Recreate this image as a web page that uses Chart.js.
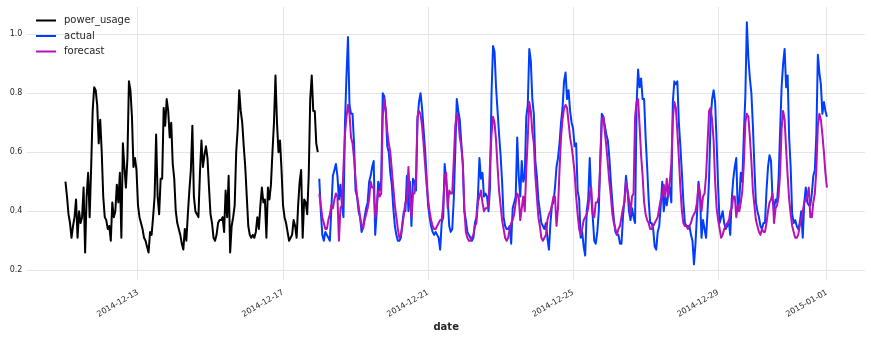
<!DOCTYPE html>
<html>
<head>
<meta charset="utf-8">
<title>power usage forecast</title>
<script src="https://cdn.jsdelivr.net/npm/chart.js@4.4.0/dist/chart.umd.min.js"></script>
<style>
  html, body { margin: 0; padding: 0; background: #fff; }
  #wrap { width: 871px; height: 339px; }
</style>
</head>
<body>
<div id="wrap"><canvas id="powerChart" width="871" height="339"></canvas></div>
<script>
// hourly series, hour 0 = 2014-12-11 00:00
const seriesStart = Date.UTC(2014, 11, 11, 0, 0, 0);
const powerUsageStartHour = 0;
const actualStartHour = 168;
const forecastStartHour = 168;

const xTickLabels = ['2014-12-13', '2014-12-17', '2014-12-21', '2014-12-25', '2014-12-29', '2015-01-01'];
const yTicks = [0.2, 0.4, 0.6, 0.8, 1.0];

const powerUsage = [
  0.50,0.45,0.39,0.36,0.31,0.35,0.38,0.44,0.31,0.40,
  0.36,0.38,0.48,0.26,0.45,0.53,0.38,0.55,0.74,0.82,
  0.81,0.76,0.63,0.71,0.60,0.45,0.38,0.37,0.34,0.35,
  0.30,0.43,0.38,0.40,0.49,0.43,0.53,0.31,0.63,0.55,
  0.48,0.58,0.84,0.81,0.72,0.55,0.58,0.54,0.42,0.38,
  0.36,0.34,0.31,0.30,0.28,0.26,0.33,0.32,0.38,0.45,
  0.66,0.45,0.39,0.51,0.51,0.75,0.69,0.78,0.74,0.65,
  0.70,0.56,0.51,0.40,0.36,0.34,0.32,0.29,0.27,0.34,
  0.30,0.39,0.47,0.54,0.69,0.45,0.40,0.39,0.38,0.53,
  0.64,0.55,0.59,0.62,0.58,0.48,0.39,0.36,0.31,0.30,
  0.32,0.36,0.37,0.37,0.38,0.33,0.47,0.38,0.52,0.26,
  0.35,0.38,0.42,0.60,0.68,0.81,0.74,0.70,0.62,0.55,
  0.45,0.35,0.32,0.31,0.32,0.31,0.33,0.38,0.34,0.42,
  0.48,0.43,0.44,0.31,0.48,0.44,0.49,0.60,0.70,0.86,
  0.70,0.60,0.64,0.54,0.42,0.38,0.36,0.33,0.30,0.31,
  0.32,0.37,0.35,0.31,0.42,0.50,0.54,0.31,0.44,0.43,
  0.39,0.52,0.78,0.86,0.74,0.74,0.63,0.60
];

const actual = [
  0.51,0.40,0.32,0.30,0.33,0.32,0.31,0.30,0.41,0.52,
  0.54,0.56,0.52,0.44,0.49,0.42,0.38,0.70,0.86,0.99,
  0.76,0.73,0.73,0.63,0.47,0.45,0.40,0.38,0.33,0.35,
  0.38,0.41,0.43,0.50,0.52,0.55,0.57,0.32,0.40,0.50,
  0.47,0.51,0.80,0.79,0.74,0.62,0.60,0.53,0.49,0.41,
  0.35,0.32,0.30,0.30,0.31,0.36,0.40,0.40,0.52,0.40,
  0.50,0.35,0.51,0.50,0.47,0.71,0.77,0.80,0.75,0.68,
  0.61,0.52,0.42,0.38,0.35,0.33,0.32,0.33,0.32,0.31,
  0.27,0.36,0.38,
  0.56,0.50,0.44,0.35,0.33,0.34,0.44,
  0.60,0.78,0.74,0.71,0.63,0.56,0.40,0.37,0.33,0.32,
  0.31,0.30,0.31,0.36,0.38,0.45,0.58,0.51,0.53,0.45,
  0.46,0.45,0.40,0.48,0.80,0.96,0.94,0.82,0.74,0.66,
  0.59,0.50,0.38,0.35,0.34,0.34,
  0.35,0.29,0.41,0.43,0.45,0.65,
  0.52,0.45,0.57,0.50,0.52,0.72,0.76,0.95,0.91,0.78,
  0.73,0.57,0.52,0.44,0.40,0.36,0.35,0.34,0.36,0.31,
  0.27,0.36,0.42,0.43,0.48,0.55,0.58,0.63,0.70,0.75,
  0.84,0.87,0.78,0.81,0.74,0.70,
  0.68,0.62,0.63,0.47,
  0.44,0.31,0.33,0.28,0.25,0.40,0.44,0.58,0.45,0.38,
  0.30,0.29,0.33,0.40,0.58,0.73,0.72,0.69,0.66,0.64,
  0.58,0.50,0.43,0.37,0.33,0.32,0.32,0.29,0.29,0.38,
  0.44,0.52,0.47,0.40,0.37,0.41,0.38,0.36,
  0.76,0.88,
  0.82,0.85,0.78,0.78,0.65,0.55,0.44,0.36,0.36,0.34,
  0.28,0.27,0.33,0.35,0.42,0.50,0.40,0.45,0.42,0.46,
  0.48,0.43,0.77,0.84,0.83,0.84,0.70,0.62,0.53,0.43,
  0.36,0.35,0.35,0.35,0.32,0.30,0.22,0.29,0.39,0.50,
  0.45,
  0.31,0.37,0.34,0.31,0.40,0.51,0.71,0.78,0.81,
  0.77,0.63,0.48,0.36,0.38,0.40,0.36,0.34,0.35,0.37,
  0.32,0.44,0.51,0.55,0.58,0.40,0.44,0.53,0.50,0.66,
  0.79,1.04,0.92,0.85,0.80,0.69,0.55,0.43,0.40,0.38,
  0.35,0.34,0.36,
  0.36,0.47,0.55,0.59,0.57,0.44,0.41,0.44,
  0.43,0.51,0.67,0.82,0.90,0.95,0.82,0.86,0.65,0.55,
  0.39,0.36,0.37,0.35,0.34,0.36,0.40,0.31,0.43,0.48,
  0.43,0.42,0.42,0.46,0.52,0.54,0.66,0.93,0.87,0.83,
  0.73,0.77,0.74,0.72
];

const forecast = [
  0.46,0.42,0.38,0.36,0.34,0.34,0.37,0.39,0.42,0.41,
  0.44,0.46,0.45,0.30,0.41,0.42,0.55,0.66,0.72,0.76,
  0.73,0.65,0.63,0.58,0.51,0.45,0.42,0.38,0.35,0.34,
  0.37,0.39,0.41,0.44,0.50,0.48,0.48,0.38,0.42,0.47,
  0.45,0.46,0.72,0.78,0.74,0.67,0.63,0.60,0.54,0.48,
  0.42,0.38,0.34,0.31,0.32,0.35,0.39,0.43,0.43,0.55,
  0.44,0.38,0.46,0.46,0.51,0.72,0.74,0.73,0.69,0.63,
  0.56,0.49,0.44,0.40,0.37,0.35,0.34,0.34,0.35,0.36,
  0.37,0.37,0.42,
  0.52,0.53,0.41,0.47,0.46,0.46,
  0.57,0.69,0.73,0.71,0.65,0.62,0.56,0.41,0.33,0.31,
  0.30,0.30,0.31,0.32,0.35,0.36,0.43,0.45,0.47,0.43,
  0.40,0.41,0.41,0.42,0.56,0.66,0.72,0.70,0.64,0.55,
  0.47,0.42,0.37,0.34,0.31,0.30,0.31,
  0.34,0.36,0.37,0.39,0.43,0.46,0.45,0.37,0.41,0.45,
  0.40,0.54,0.65,0.77,0.74,0.67,0.63,0.52,0.45,0.38,
  0.35,0.31,0.30,0.31,0.32,0.37,0.39,0.40,0.42,0.45,
  0.45,0.35,0.41,0.54,0.65,0.71,0.75,0.76,0.75,0.70,
  0.65,0.62,
  0.58,0.53,0.45,0.39,0.34,0.32,0.34,0.37,0.38,0.39,
  0.41,0.46,0.48,0.39,0.38,0.43,0.43,0.45,0.56,0.71,
  0.72,0.67,0.62,0.56,0.50,0.45,0.39,0.36,0.34,0.32,
  0.34,0.35,0.38,0.41,0.43,0.50,0.47,0.44,0.39,0.45,
  0.46,0.72,
  0.77,0.78,0.69,0.59,0.52,0.43,0.39,0.37,0.36,0.34,
  0.34,0.35,0.36,0.37,0.38,0.41,0.44,0.45,0.49,0.45,
  0.51,0.45,0.50,0.56,0.71,0.77,0.75,0.67,0.58,0.48,
  0.40,0.36,0.35,0.35,0.34,0.35,0.36,0.38,0.39,0.40,
  0.43,0.49,0.46,
  0.40,0.45,0.46,0.52,0.63,0.74,0.75,0.71,0.64,0.50,
  0.41,0.37,0.34,0.31,0.32,0.34,0.35,0.36,0.36,0.40,
  0.41,0.45,0.45,0.38,0.42,0.40,0.43,0.47,0.56,0.70,
  0.73,0.72,0.65,0.57,0.47,0.42,0.37,0.35,0.33,0.32,
  0.34,0.33,
  0.33,0.36,0.40,0.43,0.44,0.46,0.36,0.41,
  0.42,0.45,0.53,0.68,0.74,0.71,0.61,0.52,0.44,0.39,
  0.35,0.33,0.31,0.31,0.32,0.35,0.37,0.40,0.43,0.44,
  0.45,0.48,0.38,0.38,0.43,0.46,0.54,0.69,0.73,0.71,
  0.66,0.60,0.53,0.48
];

// turn a list of hourly values into {x: hour, y: value}
function toPoints(values, startHour) {
  return values.map((v, i) => ({ x: startHour + i, y: v }));
}

function hourOf(label) {
  return (Date.parse(label + 'T00:00:00Z') - seriesStart) / 3600000;
}
const xTickHours = xTickLabels.map(hourOf);

const FONT = 'DejaVu Sans';
const TEXT_COLOR = '#262626';
const GRID_COLOR = '#e5e5e5';
const LINE_W = 2;

// matplotlib-style legend drawn inside the plot, top left
const innerLegend = {
  id: 'innerLegend',
  afterDraw(chart) {
    const c = chart.ctx;
    const names = ['power_usage', 'actual', 'forecast'];
    c.save();
    c.font = '10px "' + FONT + '"';
    c.textBaseline = 'middle';
    c.textAlign = 'left';
    names.forEach((name, i) => {
      const ds = chart.data.datasets.find(d => d.label === name);
      const y = 20.5 + i * 15.5;
      c.strokeStyle = ds.borderColor;
      c.lineWidth = LINE_W;
      c.beginPath();
      c.moveTo(36, y);
      c.lineTo(56, y);
      c.stroke();
      c.fillStyle = TEXT_COLOR;
      c.fillText(name, 64, y);
    });
    c.restore();
  }
};

const ctx = document.getElementById('powerChart');
new Chart(ctx, {
  type: 'line',
  data: {
    datasets: [
      { label: 'power_usage', data: toPoints(powerUsage, powerUsageStartHour), borderColor: '#000000', order: 3 },
      { label: 'actual', data: toPoints(actual, actualStartHour), borderColor: '#003DFD', order: 2 },
      { label: 'forecast', data: toPoints(forecast, forecastStartHour), borderColor: '#B512B8', order: 1 }
    ]
  },
  options: {
    responsive: false,
    animation: false,
    events: [],
    elements: {
      point: { radius: 0 },
      line: { borderWidth: LINE_W, tension: 0, borderJoinStyle: 'round', fill: false }
    },
    layout: { padding: { left: 0, right: 6, top: 7, bottom: 0 } },
    scales: {
      x: {
        type: 'linear',
        min: -25.2,
        max: 529.2,
        afterBuildTicks: s => { s.ticks = xTickHours.map(h => ({ value: h })); },
        afterFit: s => { s.height = 59.3; s.paddingLeft = 0; s.paddingRight = 0; },
        grid: { color: GRID_COLOR, lineWidth: 1, drawTicks: false },
        border: { display: false },
        ticks: {
          autoSkip: false,
          minRotation: 30,
          maxRotation: 30,
          padding: 8,
          color: TEXT_COLOR,
          font: { family: FONT, size: 8 },
          callback: (v, i) => xTickLabels[i]
        },
        title: {
          display: true,
          text: 'date',
          color: TEXT_COLOR,
          font: { family: FONT, size: 10, weight: 'bold' },
          padding: { top: 0, bottom: 6 }
        }
      },
      y: {
        min: 0.168,
        max: 1.092,
        afterBuildTicks: s => { s.ticks = yTicks.map(v => ({ value: v })); },
        afterFit: s => { s.width = 27.4; s.paddingTop = 0; s.paddingBottom = 0; },
        grid: { color: GRID_COLOR, lineWidth: 1, drawTicks: false },
        border: { display: false },
        ticks: {
          padding: 5,
          color: TEXT_COLOR,
          font: { family: FONT, size: 8 },
          callback: v => v.toFixed(1)
        }
      }
    },
    plugins: {
      legend: { display: false },
      tooltip: { enabled: false }
    }
  },
  plugins: [innerLegend]
});
</script>
</body>
</html>
